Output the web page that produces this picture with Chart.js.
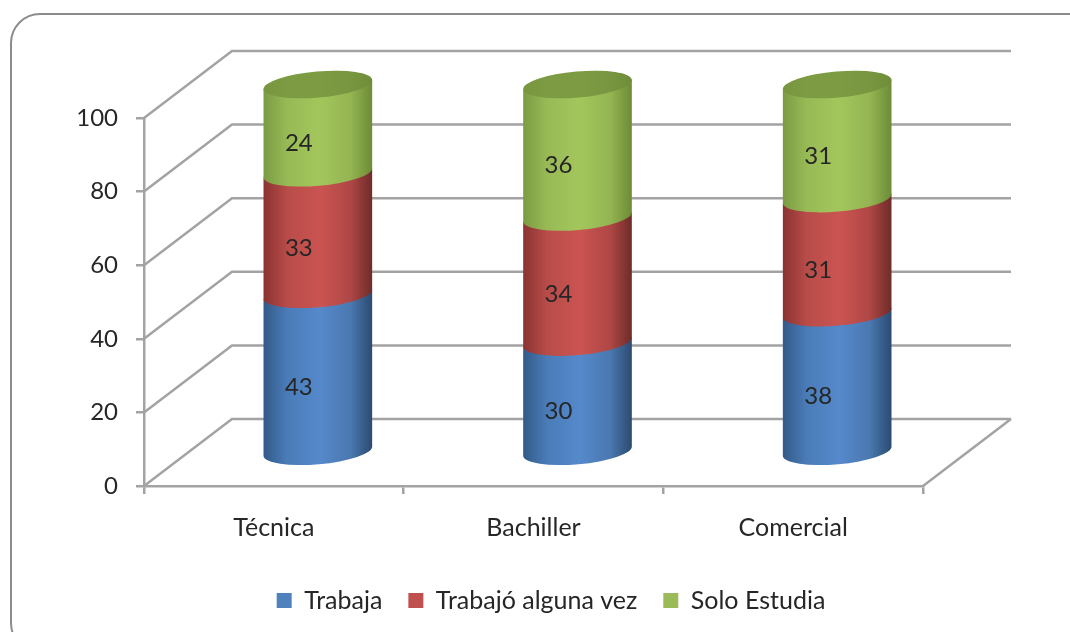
<!DOCTYPE html>
<html lang="es">
<head>
<meta charset="utf-8">
<title>Trabaja / Solo Estudia</title>
<script src="https://cdn.jsdelivr.net/npm/chart.js@4"></script>
<style>
    body { margin: 0; background: #fff; overflow: hidden; }
    #frame { position: absolute; left: 10px; top: 13px; width: 1090px; height: 640px; border: 2px solid #8c8c8c; border-radius: 30px; box-sizing: border-box; }
    canvas { position: absolute; left: 0; top: 0; filter: blur(0.6px); }
</style>
</head>
<body>
<div id="frame"></div>
<canvas id="chart" width="1070" height="632"></canvas>
<script>
// Data
const categories = ['Técnica', 'Bachiller', 'Comercial'];
const trabaja = [43, 30, 38];
const trabajoAlgunaVez = [33, 34, 31];
const soloEstudia = [24, 36, 31];

const seriesNames = ['Trabaja', 'Trabajó alguna vez', 'Solo Estudia'];
const seriesValues = [trabaja, trabajoAlgunaVez, soloEstudia];

// flat colour, then the cylinder shading: left edge, body, middle, body, right edge
const seriesColors = ['#4f81bd', '#c0504d', '#9bbb59'];
const shades = [
    ['#335a88', '#4a7cb8', '#5589cb', '#4a78b0', '#2b4a70'],
    ['#8a3331', '#b84c49', '#cb5451', '#ae4745', '#6e2b29'],
    ['#7b9b42', '#98ba56', '#a3c65c', '#94b552', '#6c8b36']
];
const topShade = ['#78963f', '#7c9b43', '#7c9b43', '#78963f', '#6f8c39'];

const gridColor = '#a3a3a3';
const textColor = '#262626';
const fontFamily = 'Lato, sans-serif';

// 3D look of the plot: how far the back wall sits from the front axes
const depthX = 88;
const depthY = 67;
const tilt = -5 * Math.PI / 180;
const ellipseRy = 13;

function sideGradient(ctx, left, right, colors) {
    const g = ctx.createLinearGradient(left, 0, right, 0);
    [0, 0.22, 0.52, 0.8, 1].forEach((stop, i) => g.addColorStop(stop, colors[i]));
    return g;
}

const cylinderPlugin = {
    id: 'cylinders',
    // back wall and floor
    beforeDatasetsDraw(chart) {
        const { ctx, chartArea, scales } = chart;
        ctx.save();
        ctx.strokeStyle = gridColor;
        ctx.lineWidth = 2.5;
        scales.y.ticks.forEach((t, i) => {
            const y = scales.y.getPixelForTick(i);
            ctx.beginPath();
            ctx.moveTo(chartArea.left, y);
            ctx.lineTo(chartArea.left + depthX, y - depthY);
            ctx.lineTo(chartArea.right + depthX, y - depthY);
            ctx.stroke();
        });
        ctx.beginPath();
        ctx.moveTo(chartArea.right, chartArea.bottom);
        ctx.lineTo(chartArea.right + depthX, chartArea.bottom - depthY);
        ctx.stroke();
        ctx.restore();
    },
    // bars are painted here instead of the flat rectangles
    beforeDatasetDraw() {
        return false;
    },
    afterDatasetsDraw(chart) {
        const { ctx } = chart;
        const offX = depthX / 2;
        const offY = depthY / 2;
        const last = chart.data.datasets.length - 1;
        ctx.save();
        chart.data.labels.forEach((_, c) => {
            chart.data.datasets.forEach((ds, d) => {
                const bar = chart.getDatasetMeta(d).data[c];
                const rx = bar.width / 2;
                const cx = bar.x + offX;
                const dxEnd = rx * Math.cos(tilt);
                const dyEnd = rx * Math.sin(tilt);
                const yTop = bar.y - offY;
                const yBase = bar.base - offY;

                ctx.beginPath();
                ctx.ellipse(cx, yBase, rx, ellipseRy, tilt, Math.PI, 0, true);
                ctx.lineTo(cx + dxEnd, yTop + dyEnd);
                ctx.lineTo(cx - dxEnd, yTop - dyEnd);
                ctx.closePath();
                ctx.fillStyle = sideGradient(ctx, cx - rx, cx + rx, shades[d]);
                ctx.fill();

                if (d === last) {
                    ctx.beginPath();
                    ctx.ellipse(cx, yTop, rx, ellipseRy, tilt, 0, Math.PI * 2);
                    ctx.fillStyle = sideGradient(ctx, cx - rx, cx + rx, topShade);
                    ctx.fill();
                }
            });
            // value labels go on top of every segment
            chart.data.datasets.forEach((ds, d) => {
                const bar = chart.getDatasetMeta(d).data[c];
                ctx.fillStyle = textColor;
                ctx.font = '24px ' + fontFamily;
                ctx.textAlign = 'center';
                ctx.textBaseline = 'middle';
                ctx.fillText(ds.data[c], bar.x + 25, (bar.y + bar.base) / 2 - 19);
            });
        });
        ctx.restore();
    }
};

const chart = new Chart(document.getElementById('chart'), {
    type: 'bar',
    data: {
        labels: categories,
        datasets: seriesNames.map((name, i) => ({
            label: name,
            data: seriesValues[i],
            backgroundColor: seriesColors[i],
            categoryPercentage: 1,
            barPercentage: 0.42
        }))
    },
    plugins: [cylinderPlugin],
    options: {
        responsive: false,
        animation: false,
        layout: { padding: { left: 32, top: 118, bottom: 9 } },
        plugins: {
            tooltip: { enabled: false },
            legend: {
                position: 'bottom',
                labels: {
                    boxWidth: 15,
                    boxHeight: 15,
                    padding: 26,
                    color: textColor,
                    font: { family: fontFamily, size: 25 }
                }
            }
        },
        scales: {
            x: {
                stacked: true,
                grid: { drawOnChartArea: false, color: gridColor, lineWidth: 2.5, tickLength: 8 },
                border: { color: gridColor, width: 2.5 },
                ticks: { color: textColor, padding: 19, font: { family: fontFamily, size: 25 } },
                afterFit: s => { s.height = 76; }
            },
            y: {
                stacked: true,
                min: 0,
                max: 100,
                grid: { drawOnChartArea: false, color: gridColor, lineWidth: 2.5, tickLength: 8 },
                border: { color: gridColor, width: 2.5 },
                ticks: { stepSize: 20, color: textColor, padding: 18, font: { family: fontFamily, size: 24 } },
                afterFit: s => { s.width = 112; }
            },
            // empty axis, only keeps the room for the back wall on the right
            y2: {
                position: 'right',
                display: true,
                min: 0,
                max: 100,
                grid: { display: false },
                border: { display: false },
                ticks: { display: false },
                afterFit: s => { s.width = 147; }
            }
        }
    }
});
</script>
</body>
</html>
